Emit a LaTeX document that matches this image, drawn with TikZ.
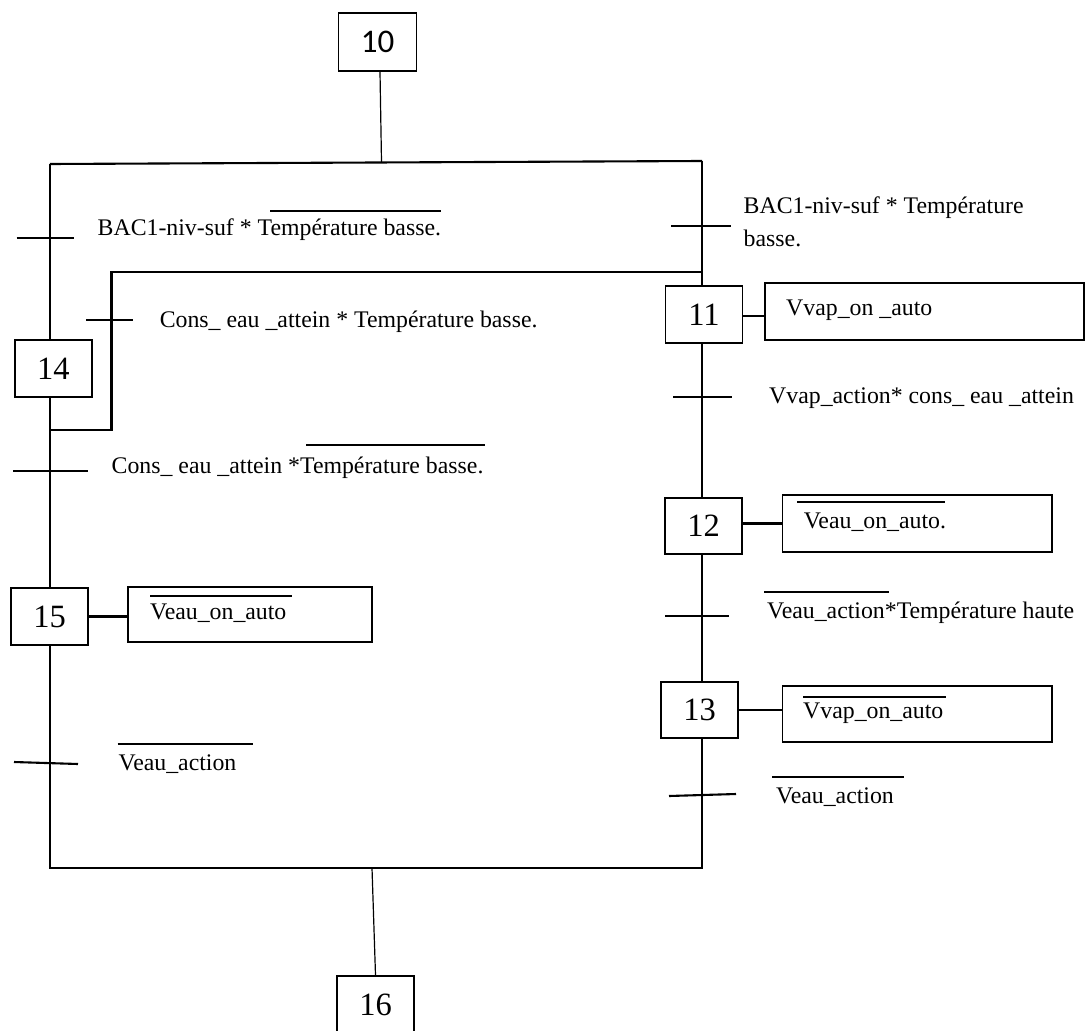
\documentclass[tikz,border=0pt]{standalone}
\usepackage{fontspec}
\setmainfont{Liberation Serif}
\newfontfamily\stepsans{Carlito}
\begin{document}
\begin{tikzpicture}[x=1pt,y=-1pt,
  wire/.style={line width=2.1pt},
  thinwire/.style={line width=1.2pt},
  stepbox/.style={draw,line width=1.9pt,minimum width=77pt,minimum height=57pt,
    inner sep=0pt,font=\fontsize{32.5}{36}\selectfont},
  actbox/.style={draw,line width=1.9pt,inner sep=0pt},
  lbl/.style={anchor=base west,inner sep=0pt,font=\fontsize{23.8}{28}\selectfont},
  bar/.style={line width=2.1pt},
  ovl/.style={line width=1.6pt}]
\useasboundingbox (0,0) rectangle (1086,1030);

% ---- steps ----
\node[stepbox,font=\stepsans\fontsize{33}{36}\selectfont,minimum width=78pt,minimum height=58pt] (s10) at (377.5,42) {10};
\node[stepbox] (s11) at (704,314.5) {11};
\node[stepbox,minimum height=56pt] (s12) at (703.5,526) {12};
\node[stepbox,minimum height=56pt] (s13) at (699.5,710) {13};
\node[stepbox] (s14) at (53.3,368.5) {14};
\node[stepbox] (s15) at (49.5,616.5) {15};
\node[stepbox] (s16) at (375.5,1004.5) {16};

% ---- action boxes ----
\node[actbox,minimum width=319pt,minimum height=57pt] (a11) at (924.5,311.5) {};
\node[actbox,minimum width=269.5pt,minimum height=57pt] (a12) at (917.25,523.5) {};
\node[actbox,minimum width=269.5pt,minimum height=56pt] (a13) at (917.25,714) {};
\node[actbox,minimum width=244pt,minimum height=55pt] (a15) at (250,614.5) {};

% ---- junction points ----
\coordinate (j10) at (381.5,162);
\coordinate (tl) at (50,164);
\coordinate (tr) at (702,161);
\coordinate (loopr) at (702,272);
\coordinate (loopa) at (111.5,272);
\coordinate (loopb) at (111.5,430);
\coordinate (loopl) at (50,430);
\coordinate (bl) at (50,868);
\coordinate (br) at (702,868);
\coordinate (jb) at (372,868);

% ---- sequence lines ----
\draw[thinwire] ([xshift=2.5pt]s10.south) -- (j10);
\draw[wire] (tl) -- (tr);
\draw[wire] (tl) -- (tl |- s14.north);
\draw[wire] (tl |- s14.south) -- (tl |- s15.north);
\draw[wire] (tl |- s15.south) -- (bl) -- (br) -- (br |- s13.south);
\draw[wire] (tr) -- (tr |- s11.north);
\draw[wire] (tr |- s11.south) -- (tr |- s12.north);
\draw[wire] (tr |- s12.south) -- (tr |- s13.north);
\draw[wire] (loopr) -- (loopa) -- (loopb) -- (loopl);
\draw[thinwire] (jb) -- (s16.north);

% ---- step to action links ----
\draw[wire] (s11.east |- 0,316) -- (a11.west |- 0,316);
\draw[wire] (a12.west -| s12.east) -- (a12.west);
\draw[wire] (s13.east) -- (s13.east -| a13.west);
\draw[wire] (s15.east) -- (s15.east -| a15.west);

% ---- transition bars ----
\draw[bar] (16.5,238) -- (74,238);
\draw[bar] (86,320) -- (133,320);
\draw[bar] (13,471) -- (87.7,471);
\draw[bar] (14,762) -- (78,764);
\draw[bar] (671,226) -- (730.5,226);
\draw[bar] (673,397) -- (732,397);
\draw[bar] (665,616) -- (728.5,616);
\draw[bar] (669,796) -- (736,794);

% ---- receptivities ----
\node[lbl] (c1) at (97.5,235) {BAC1-niv-suf * Température basse.};
\draw[ovl] (270,211) -- (441,211);
\node[lbl] (c2) at (159.6,327) {Cons\_ eau \_attein * Température basse.};
\node[lbl] (c3) at (111.5,473) {Cons\_ eau \_attein *Température basse.};
\draw[ovl] (306,445) -- (485,445);
\node[lbl] (c4) at (118.5,770) {Veau\_action};
\draw[ovl] (117.5,744) -- (253,744);
\node[lbl] (r1a) at (743.5,213) {BAC1-niv-suf * Température};
\node[lbl] (r1b) at (743.5,246) {basse.};
\node[lbl] (r2) at (769,403) {Vvap\_action* cons\_ eau \_attein};
\node[lbl] (r3) at (767,618) {Veau\_action*Température haute};
\draw[ovl] (764,592) -- (889,592);
\node[lbl] (r4) at (776,803) {Veau\_action};
\draw[ovl] (772,777) -- (904,777);

% ---- actions ----
\node[lbl] (t11) at (786,315) {Vvap\_on \_auto};
\node[lbl] (t12) at (803.7,528) {Veau\_on\_auto.};
\draw[ovl] (797,502) -- (945,502);
\node[lbl] (t13) at (803,718) {Vvap\_on\_auto};
\draw[ovl] (803,697) -- (946,697);
\node[lbl] (t15) at (150,619) {Veau\_on\_auto};
\draw[ovl] (150,596) -- (292,596);
\end{tikzpicture}
\end{document}
